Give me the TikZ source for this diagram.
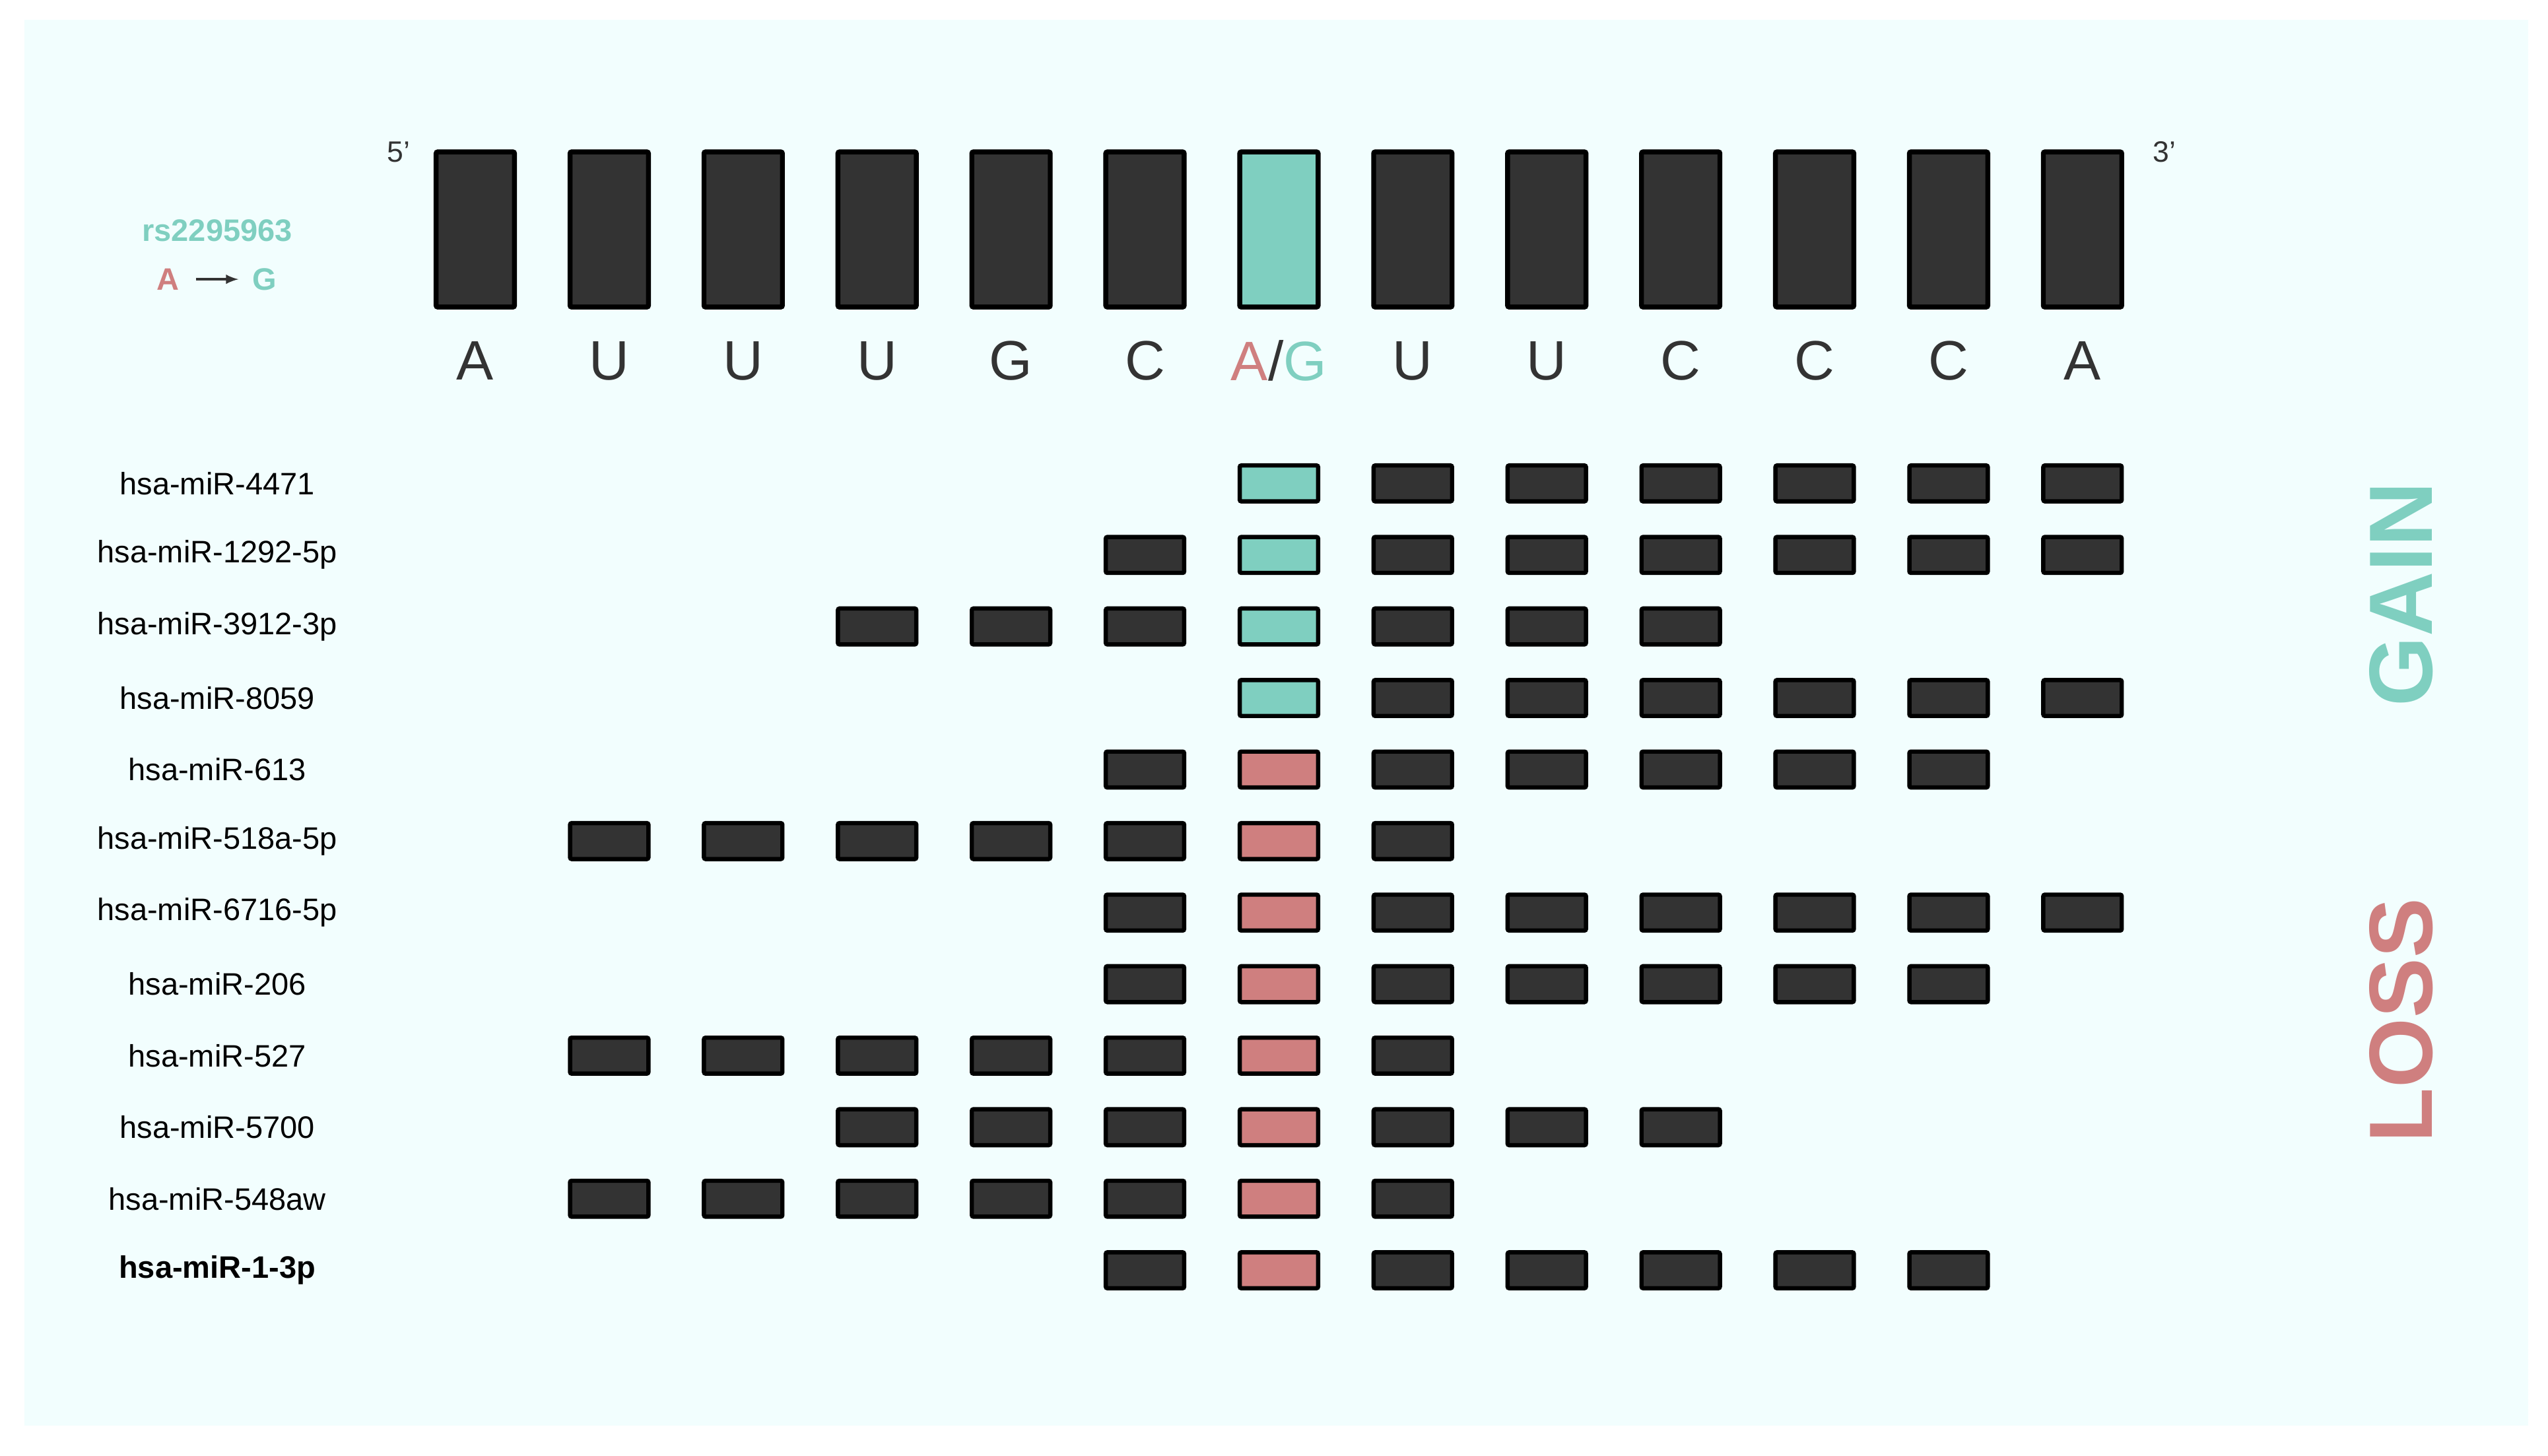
\documentclass[tikz,border=0pt]{standalone}
\usepackage{fontspec}
\setmainfont{Liberation Sans}
\begin{document}
\begin{tikzpicture}[x=1pt,y=-1pt,
  bg/.style={fill=bgc,draw=none},
  base/.style={draw=black,line width=3pt,rounded corners=1pt,fill=dk,minimum width=48pt,minimum height=95pt,inner sep=0pt},
  cell/.style={draw=black,line width=2.6pt,rounded corners=1pt,fill=dk,minimum width=48pt,minimum height=22pt,inner sep=0pt},
  gcell/.style={cell,fill=gn},
  lcell/.style={cell,fill=ls},
  lett/.style={font=\fontsize{34}{34}\selectfont,text=dk},
  lab/.style={font=\fontsize{19}{19}\selectfont,text=black,anchor=center}]
\definecolor{bgc}{HTML}{F2FEFE}
\definecolor{dk}{HTML}{333333}
\definecolor{gn}{HTML}{7FCFC0}
\definecolor{ls}{HTML}{CF7F7F}
\useasboundingbox (0,0) rectangle (1560,891.5);
\fill[bgc] (15,12) rectangle (1548,873);
\foreach \l [count=\i] in {A,U,U,U,G,C,X,U,U,C,C,C,A}{
  \pgfmathsetmacro{\cx}{291+82*(\i-1)}
  \ifnum\i=7
    \node[base,fill=gn] (b\i) at (\cx,140.5) {};
    \node[lett] (t\i) at (\cx,221) {\textcolor{ls}{A}/\textcolor{gn}{G}};
  \else
    \node[base] (b\i) at (\cx,140.5) {};
    \node[lett] (t\i) at (\cx,221) {\l};
  \fi
}
\node[font=\fontsize{18}{18}\selectfont,text=dk] (p5) at (244,93) {5'};
\node[font=\fontsize{18}{18}\selectfont,text=dk] (p3) at (1325,93) {3'};
\node[font=\bfseries\fontsize{19}{19}\selectfont,text=gn] (rs) at (133,141) {rs2295963};
\node[font=\bfseries\fontsize{19}{19}\selectfont,text=ls] (ra) at (103,171) {A};
\node[font=\bfseries\fontsize{19}{19}\selectfont,text=gn] (rg) at (162,171) {G};
\draw[-latex,line width=1.6pt,dk] (120,171) -- (146,171);
% rows: label, first col, last col, type
\foreach \lbl/\a/\b/\t [count=\r] in {
  hsa-miR-4471/7/13/g, hsa-miR-1292-5p/6/13/g, hsa-miR-3912-3p/4/10/g, hsa-miR-8059/7/13/g,
  hsa-miR-613/6/12/l, hsa-miR-518a-5p/2/8/l, hsa-miR-6716-5p/6/13/l, hsa-miR-206/6/12/l,
  hsa-miR-527/2/8/l, hsa-miR-5700/4/10/l, hsa-miR-548aw/2/8/l, {\bfseries hsa-miR-1-3p}/6/12/l}{
  \pgfmathsetmacro{\cy}{296+43.8*(\r-1)}
  \node[lab] (L\r) at (133,\cy) {\lbl};
  \foreach \c in {\a,...,\b}{
    \pgfmathsetmacro{\cx}{291+82*(\c-1)}
    \ifnum\c=7
      \node[\t cell] (c\r-\c) at (\cx,\cy) {};
    \else
      \node[cell] (c\r-\c) at (\cx,\cy) {};
    \fi
  }
}
\node[rotate=90,font=\bfseries\fontsize{55}{55}\selectfont,text=gn] (gain) at (1470,364) {GAIN};
\node[rotate=90,font=\bfseries\fontsize{55}{55}\selectfont,text=ls] (loss) at (1470,625) {LOSS};
\end{tikzpicture}
\end{document}
